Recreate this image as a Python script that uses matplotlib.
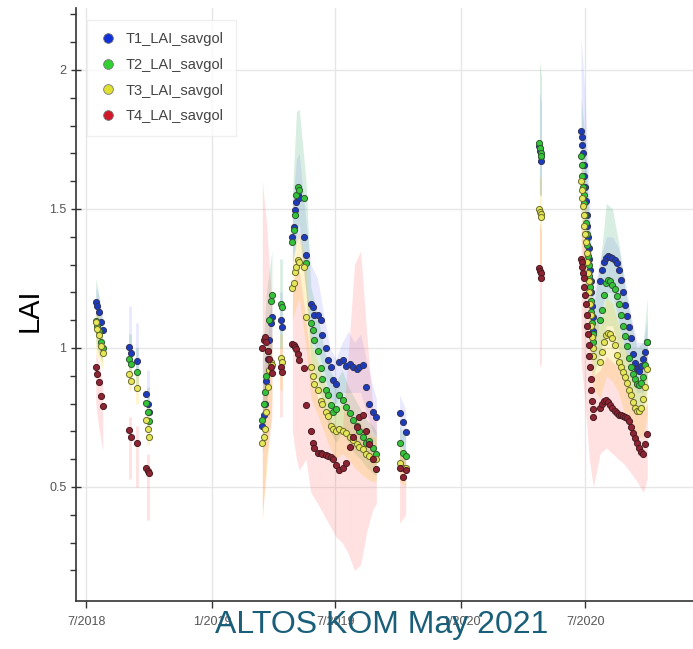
import numpy as np
import pandas as pd
import matplotlib
matplotlib.use("Agg")
import matplotlib.pyplot as plt
from matplotlib.lines import Line2D

plt.rcParams['font.family'] = ['Liberation Sans', 'DejaVu Sans']

# observation dates (savgol-smoothed LAI per treatment)
dates = pd.to_datetime([
    "2018-07-15", "2018-07-17", "2018-07-19", "2018-07-22", "2018-07-25",
    "2018-09-02", "2018-09-04", "2018-09-14", "2018-09-27", "2018-09-29", "2018-10-01",
    "2019-03-16", "2019-03-18", "2019-03-20", "2019-03-22", "2019-03-24", "2019-03-26", "2019-03-28", "2019-03-30",
    "2019-04-12", "2019-04-14",
    "2019-04-29", "2019-05-01", "2019-05-03", "2019-05-05", "2019-05-07", "2019-05-09", "2019-05-16", "2019-05-19",
    "2019-05-26", "2019-05-29", "2019-05-31", "2019-06-05", "2019-06-10", "2019-06-12", "2019-06-17", "2019-06-20",
    "2019-06-25", "2019-06-27", "2019-07-02", "2019-07-07", "2019-07-12", "2019-07-17", "2019-07-22", "2019-07-27",
    "2019-08-01", "2019-08-05", "2019-08-10", "2019-08-15", "2019-08-20", "2019-08-25", "2019-08-30",
    "2019-10-03", "2019-10-08", "2019-10-12",
    "2020-04-25", "2020-04-26", "2020-04-27", "2020-04-28",
    "2020-06-25", "2020-06-26", "2020-06-27", "2020-06-28", "2020-06-29", "2020-06-30", "2020-07-01",
    "2020-07-02", "2020-07-03", "2020-07-04", "2020-07-05", "2020-07-06", "2020-07-07", "2020-07-08",
    "2020-07-09", "2020-07-10", "2020-07-11", "2020-07-12", "2020-07-13",
    "2020-07-23", "2020-07-26", "2020-07-29", "2020-08-01", "2020-08-04", "2020-08-07", "2020-08-10",
    "2020-08-13", "2020-08-16", "2020-08-19", "2020-08-22", "2020-08-25", "2020-08-28", "2020-08-31",
    "2020-09-03", "2020-09-06", "2020-09-09", "2020-09-12", "2020-09-15", "2020-09-18", "2020-09-21",
    "2020-09-24", "2020-09-27", "2020-09-30",
])

t1 = [1.167, 1.150, 1.129, 1.094, 1.065,
      1.005, 0.981, 0.954, 0.835, 0.800, 0.770,
      0.72, 0.76, 0.80, 0.88, 0.96, 1.03, 1.09, 1.11,
      1.100, 1.077,
      1.40, 1.436, 1.496, 1.526, 1.55, 1.54, 1.40, 1.335,
      1.16, 1.149, 1.119, 1.118, 1.10, 1.047, 1.00, 0.957, 0.93, 0.885, 0.87, 0.95,
      0.957, 0.935, 0.942, 0.93, 0.925, 0.93, 0.94, 0.86, 0.80, 0.77, 0.75,
      0.765, 0.735, 0.699,
      1.725, 1.707, 1.689, 1.671,
      1.78, 1.76, 1.73, 1.70, 1.66, 1.62, 1.58, 1.53, 1.48, 1.44, 1.40, 1.36, 1.32,
      1.28, 1.24, 1.20, 1.15, 1.11, 1.06,
      1.24, 1.28, 1.31, 1.325, 1.33, 1.328, 1.324, 1.318, 1.305, 1.28, 1.245, 1.20,
      1.155, 1.115, 1.075, 1.035, 0.98, 0.945, 0.925, 0.918, 0.935, 0.96, 0.985, 1.02]

t2 = [1.098, 1.080, 1.061, 1.023, 1.000,
      0.960, 0.941, 0.913, 0.803, 0.771, 0.738,
      0.74, 0.80, 0.84, 0.90, 0.99, 1.10, 1.17, 1.19,
      1.158, 1.146,
      1.38, 1.424, 1.48, 1.55, 1.58, 1.568, 1.54, 1.305,
      1.09, 1.065, 1.03, 0.99, 0.927, 0.89, 0.85, 0.83, 0.795, 0.77, 0.78, 0.83,
      0.813, 0.789, 0.765, 0.741, 0.72, 0.70, 0.68, 0.657, 0.665, 0.64, 0.62,
      0.657, 0.621, 0.61,
      1.737, 1.719, 1.70, 1.69,
      1.69, 1.66, 1.62, 1.58, 1.55, 1.52, 1.48, 1.45, 1.41, 1.37, 1.33, 1.30, 1.26,
      1.22, 1.17, 1.13, 1.09, 1.05, 1.02,
      1.10, 1.135, 1.19, 1.232, 1.243, 1.24, 1.228, 1.212, 1.188, 1.16, 1.12, 1.08,
      1.042, 1.006, 0.965, 0.933, 0.908, 0.888, 0.872, 0.868, 0.875, 0.895, 0.94, 1.02]

t3 = [1.094, 1.068, 1.047, 1.007, 0.981,
      0.905, 0.881, 0.855, 0.741, 0.709, 0.680,
      0.66, 0.68, 0.71, 0.77, 0.86, 0.92, 0.95, 0.94,
      0.965, 0.950,
      1.215, 1.233, 1.274, 1.292, 1.317, 1.31, 1.292, 1.113,
      0.93, 0.90, 0.87, 0.85, 0.81, 0.80, 0.77, 0.755, 0.72, 0.71, 0.70, 0.71,
      0.70, 0.695, 0.68, 0.67, 0.655, 0.645, 0.635, 0.62, 0.61, 0.60, 0.60,
      0.585, 0.57, 0.57,
      1.50, 1.49, 1.482, 1.47,
      1.60, 1.57, 1.54, 1.51, 1.48, 1.44, 1.41, 1.38, 1.34, 1.31, 1.27, 1.24, 1.20,
      1.16, 1.12, 1.08, 1.04, 1.00, 0.97,
      0.95, 0.985, 1.02, 1.045, 1.053, 1.052, 1.035, 1.012, 0.975, 0.95, 0.93, 0.915,
      0.895, 0.875, 0.85, 0.83, 0.805, 0.785, 0.775, 0.772, 0.785, 0.815, 0.86, 0.925]

t4 = [0.933, 0.906, 0.879, 0.827, 0.791,
      0.705, 0.681, 0.657, 0.567, 0.558, 0.549,
      1.00, 1.03, 1.04, 1.02, 0.99, 0.96, 0.93, 0.91,
      0.930, 0.915,
      1.015, 1.01, 1.005, 0.995, 0.98, 0.957, 0.927, 0.795,
      0.70, 0.657, 0.639, 0.621, 0.621, 0.618, 0.615, 0.612, 0.609, 0.60, 0.579, 0.561,
      0.567, 0.585, 0.645, 0.681, 0.717, 0.753, 0.76, 0.70, 0.655, 0.60, 0.565,
      0.567, 0.537, 0.56,
      1.287, 1.278, 1.268, 1.25,
      1.32, 1.31, 1.29, 1.27, 1.25, 1.22, 1.19, 1.16, 1.12, 1.08, 1.05, 1.01, 0.97,
      0.93, 0.89, 0.85, 0.81, 0.78, 0.75,
      0.785, 0.80, 0.81, 0.813, 0.805, 0.795, 0.785, 0.773, 0.765, 0.76, 0.758, 0.756,
      0.753, 0.748, 0.738, 0.715, 0.695, 0.677, 0.658, 0.642, 0.625, 0.62, 0.655, 0.69]

# spread of LAI within each treatment (min / max envelope)
band_dates = pd.to_datetime([
    "2018-07-15", "2018-07-19", "2018-07-25",
    "2018-09-03", "2018-09-14", "2018-09-29",
    "2019-03-16", "2019-03-22", "2019-03-30",
    "2019-04-13",
    "2019-04-29", "2019-05-05", "2019-05-09", "2019-05-19",
    "2019-05-26", "2019-06-05", "2019-06-14", "2019-06-23", "2019-07-02", "2019-07-11",
    "2019-07-20", "2019-07-29", "2019-08-07", "2019-08-16", "2019-08-25", "2019-08-30",
    "2019-10-03", "2019-10-12",
    "2020-04-25", "2020-04-28",
    "2020-06-25", "2020-07-01", "2020-07-07", "2020-07-13",
    "2020-07-23", "2020-08-01", "2020-08-10", "2020-08-19", "2020-08-28", "2020-09-06",
    "2020-09-15", "2020-09-24", "2020-09-30",
])

t1_lo = [1.12, 1.08, 1.02, 0.95, 0.90, 0.78, 0.62, 0.78, 0.98, 1.0, 1.3, 1.38, 1.4, 1.2,
         1.02, 1.0, 0.92, 0.82, 0.8, 0.84, 0.84, 0.84, 0.84, 0.76, 0.7, 0.68,
         0.66, 0.62, 1.55, 1.55, 1.6, 1.45, 1.2, 0.95,
         1.12, 1.2, 1.2, 1.1, 1.0, 0.9, 0.84, 0.84, 0.92]
t1_hi = [1.22, 1.19, 1.12, 1.15, 1.09, 0.92, 0.85, 1.0, 1.2, 1.2, 1.5, 1.68, 1.7, 1.45,
         1.3, 1.25, 1.12, 1.0, 0.96, 1.02, 1.06, 1.02, 1.05, 0.95, 0.86, 0.82,
         0.83, 0.78, 1.92, 1.88, 2.12, 1.9, 1.55, 1.2,
         1.32, 1.4, 1.4, 1.36, 1.25, 1.12, 1.02, 1.02, 1.1]
t2_lo = [1.02, 0.98, 0.95, 0.9, 0.86, 0.7, 0.62, 0.8, 1.0, 1.0, 1.3, 1.4, 1.45, 1.2,
         0.95, 0.88, 0.78, 0.7, 0.66, 0.7, 0.66, 0.62, 0.6, 0.57, 0.55, 0.54,
         0.57, 0.55, 1.55, 1.55, 1.5, 1.35, 1.1, 0.9,
         0.98, 1.08, 1.08, 1.0, 0.9, 0.82, 0.77, 0.78, 0.86]
t2_hi = [1.25, 1.2, 1.08, 1.05, 1.0, 0.86, 0.95, 1.2, 1.35, 1.32, 1.55, 1.85, 1.86, 1.6,
         1.22, 1.12, 1.0, 0.92, 0.88, 0.92, 0.86, 0.82, 0.78, 0.74, 0.72, 0.7,
         0.72, 0.68, 2.03, 1.98, 1.9, 1.75, 1.45, 1.15,
         1.3, 1.52, 1.5, 1.38, 1.22, 1.1, 1.0, 1.02, 1.18]
t3_lo = [0.98, 0.96, 0.92, 0.85, 0.8, 0.65, 0.4, 0.55, 0.8, 0.85, 1.1, 1.15, 1.18, 1.0,
         0.82, 0.76, 0.7, 0.64, 0.6, 0.62, 0.6, 0.57, 0.55, 0.53, 0.52, 0.52,
         0.52, 0.5, 1.3, 1.3, 1.4, 1.25, 1.0, 0.85,
         0.82, 0.9, 0.88, 0.84, 0.76, 0.72, 0.68, 0.68, 0.76]
t3_hi = [1.18, 1.12, 1.05, 0.98, 0.92, 0.8, 0.8, 0.95, 1.05, 1.05, 1.3, 1.4, 1.42, 1.3,
         1.02, 0.95, 0.88, 0.82, 0.78, 0.8, 0.77, 0.75, 0.73, 0.7, 0.68, 0.68,
         0.65, 0.62, 1.62, 1.6, 1.7, 1.6, 1.35, 1.1,
         1.08, 1.18, 1.16, 1.08, 1.0, 0.94, 0.88, 0.88, 1.02]
t4_lo = [0.8, 0.72, 0.63, 0.53, 0.5, 0.38, 0.38, 0.6, 0.75, 0.75, 0.7, 0.6, 0.56, 0.6,
         0.48, 0.44, 0.4, 0.36, 0.32, 0.3, 0.26, 0.2, 0.22, 0.34, 0.42, 0.44,
         0.37, 0.4, 0.93, 0.95, 0.95, 0.8, 0.6, 0.5,
         0.62, 0.64, 0.62, 0.6, 0.58, 0.55, 0.52, 0.48, 0.53]
t4_hi = [0.98, 0.95, 0.88, 0.75, 0.72, 0.62, 1.6, 1.45, 1.15, 1.0, 1.2, 1.3, 1.28, 1.1,
         0.95, 0.82, 0.78, 0.74, 0.72, 0.7, 0.98, 1.3, 1.35, 1.05, 0.78, 0.74,
         0.62, 0.6, 1.45, 1.42, 1.45, 1.35, 1.1, 0.9,
         0.92, 0.97, 0.95, 0.93, 0.9, 0.84, 0.79, 0.77, 0.8]

names = ["T1_LAI_savgol", "T2_LAI_savgol", "T3_LAI_savgol", "T4_LAI_savgol"]
series = [t1, t2, t3, t4]
bands = [(t1_lo, t1_hi), (t2_lo, t2_hi), (t3_lo, t3_hi), (t4_lo, t4_hi)]

dot_colors = ["#1c3cc0", "#33c43a", "#e6e65a", "#8e2433"]
edge_colors = ["#33335a", "#2f5a2f", "#6b6b2a", "#4a1a20"]
legend_colors = ["#1030d8", "#30d030", "#e0e030", "#d01828"]
band_colors = ["#6a6aff", "#2ca25f", "#ffc800", "#ff6b6b"]
band_alpha = [0.15, 0.18, 0.2, 0.2]

fig = plt.figure(figsize=(6.93, 6.49), dpi=100)
ax = fig.add_axes([0.1097, 0.074, 0.8903, 0.9137])

# split the envelope wherever there is a gap in acquisitions
bd = np.array(band_dates)
gaps = np.where(np.diff(bd).astype('timedelta64[h]').astype(float) / 24 > 10.5)[0] + 1
segments = np.split(np.arange(len(bd)), gaps)

for (lo, hi), c, a in zip(bands, band_colors, band_alpha):
    lo = np.array(lo)
    hi = np.array(hi)
    for idx in segments:
        if len(idx) > 1:
            ax.fill_between(bd[idx], lo[idx], hi[idx], color=c, alpha=a, lw=0)
        else:
            ax.vlines(bd[idx], lo[idx], hi[idx], color=c, alpha=a, lw=2.0)

for vals, fc, ec in zip(series, dot_colors, edge_colors):
    ax.plot(dates, vals, 'o', ls='none', ms=4.4, mfc=fc, mec=ec, mew=0.7, zorder=3)

xticks = pd.to_datetime(["2018-07-01", "2019-01-01", "2019-07-01", "2020-01-01", "2020-07-01"])
ax.set_xticks(xticks)
ax.set_xticklabels([f"{d.month}/{d.year}" for d in xticks])
ax.set_xlim(pd.Timestamp("2018-06-16"), pd.Timestamp("2020-12-06"))

ax.set_ylim(0.09, 2.223)
ax.set_yticks([0.5, 1, 1.5, 2])
ax.set_yticklabels(["0.5", "1", "1.5", "2"])
ax.set_yticks(np.arange(0.2, 2.25, 0.1), minor=True)

ax.grid(True, which='major', color='#e6e6e6', lw=1)
ax.set_axisbelow(True)
for s in ['top', 'right']:
    ax.spines[s].set_visible(False)
for s in ['left', 'bottom']:
    ax.spines[s].set_color('#333333')
    ax.spines[s].set_linewidth(1.2)
ax.tick_params(axis='both', which='major', direction='inout', length=7, width=1,
               color='#333333', labelcolor='#555555', labelsize=9)
ax.tick_params(axis='y', which='minor', direction='out', length=4, width=1, color='#333333')
ax.tick_params(axis='x', which='major', direction='out', length=5, pad=6)

handles = [Line2D([], [], color=c, alpha=1, lw=0, marker='o', ms=7,
                  mfc=c, mec='#777777', mew=0.6) for c in legend_colors]
leg = ax.legend(handles, names, loc='upper left', bbox_to_anchor=(0.018, 0.98),
                borderaxespad=0, frameon=True, fancybox=False, fontsize=10.5,
                labelspacing=0.8, handlelength=1.2, handletextpad=0.6, borderpad=0.85)
leg.get_frame().set_edgecolor('#ececec')
leg.get_frame().set_linewidth(1)
for t in leg.get_texts():
    t.set_color('#444444')

fig.text(30 / 693, 1 - 310 / 649, "LAI", rotation=90, ha='center', va='center', fontsize=21)
fig.text(0.5505, 0.037, "ALTOS KOM May 2021", ha='center', va='center',
         fontsize=23, color='#1a5f7a')

fig.savefig("out.png", dpi=100)
